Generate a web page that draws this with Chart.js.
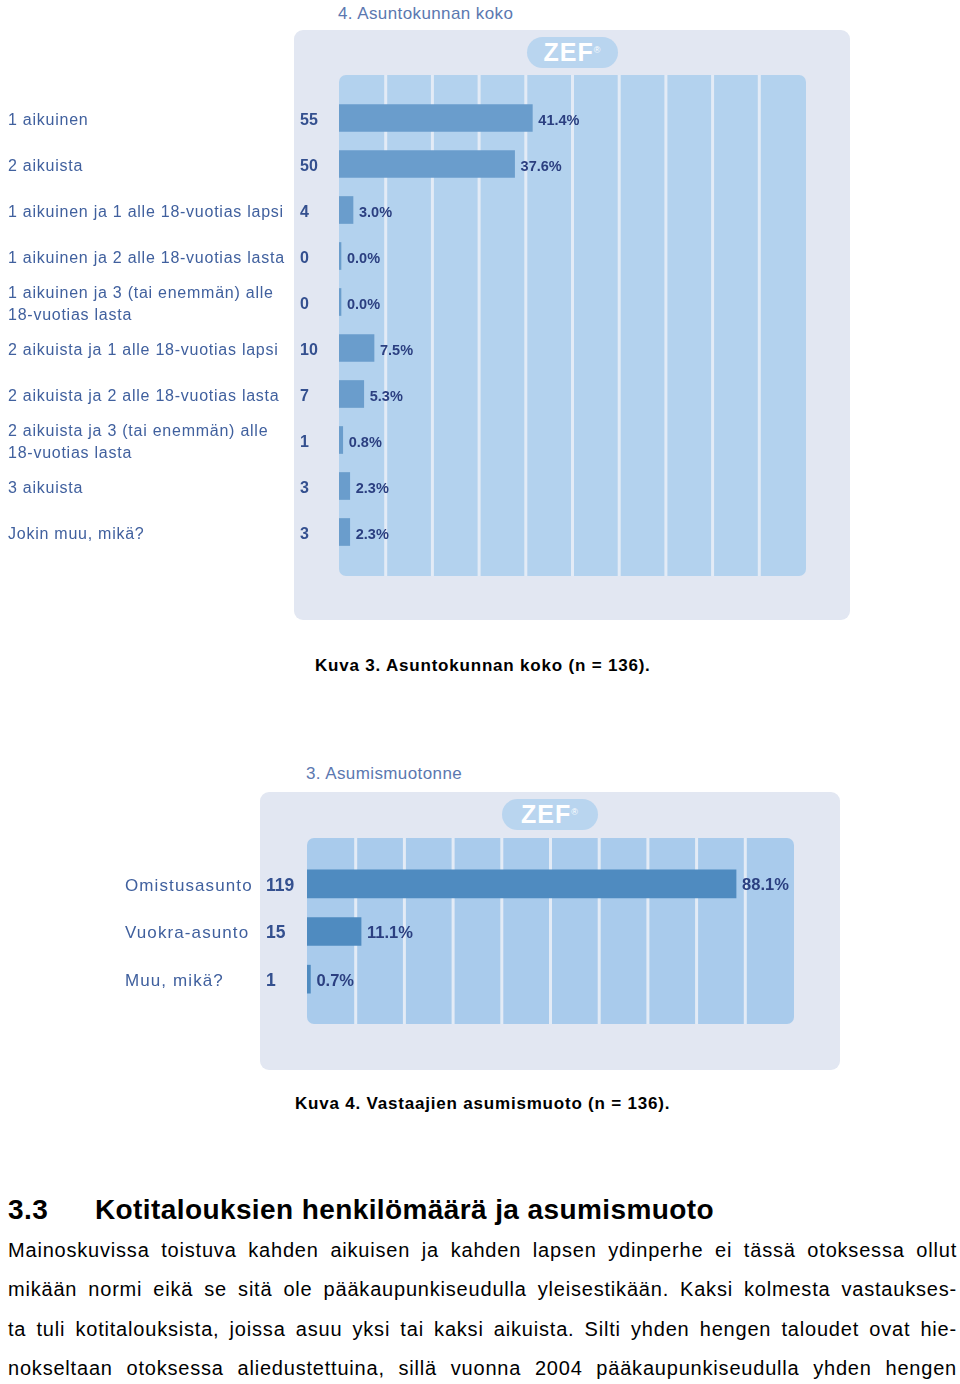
<!DOCTYPE html>
<html>
<head>
<meta charset="utf-8">
<script src="https://cdn.jsdelivr.net/npm/chart.js@4"></script>
<style>
  body { margin:0; background:#fff; width:960px; height:1384px; position:relative; overflow:hidden; font-family:"Liberation Sans", Arial, sans-serif; }
  .abs { position:absolute; }
  .panel { background:#e2e7f2; border-radius:9px; }
  .zef { background:#b9d5ef; border-radius:16px; color:#fff; font:bold 25px "Liberation Sans", Arial, sans-serif; text-align:center; letter-spacing:1px; }
  .zef sup { font-size:9px; font-weight:normal; vertical-align:top; position:relative; top:-2px; }
  .ctitle { color:#5b78b0; font-size:17px; letter-spacing:0.4px; }
  .caption { font-weight:bold; font-size:17px; letter-spacing:0.8px; color:#000; }
  .heading { font-weight:bold; font-size:28px; letter-spacing:0.4px; }
  .body-line { left:8px; width:949px; font-size:20px; letter-spacing:0.8px; text-align:justify; text-align-last:justify; color:#000; white-space:nowrap; }
</style>
</head>
<body>

<div class="abs ctitle" style="left:338px;top:4px;">4. Asuntokunnan koko</div>
<div class="abs panel" style="left:294px;top:30px;width:556px;height:590px;"></div>
<div class="abs zef" style="left:527px;top:37px;width:91px;height:31px;line-height:31px;">ZEF<sup>®</sup></div>
<canvas id="chart1" class="abs" style="left:0;top:0;"></canvas>
<div class="abs caption" style="left:315px;top:656px;">Kuva 3. Asuntokunnan koko (n = 136).</div>

<div class="abs ctitle" style="left:306px;top:764px;">3. Asumismuotonne</div>
<div class="abs panel" style="left:260px;top:792px;width:580px;height:278px;"></div>
<div class="abs zef" style="left:502px;top:799px;width:96px;height:31px;line-height:31px;">ZEF<sup>®</sup></div>
<canvas id="chart2" class="abs" style="left:0;top:760px;"></canvas>
<div class="abs caption" style="left:295px;top:1094px;">Kuva 4. Vastaajien asumismuoto (n = 136).</div>

<div class="abs heading" style="left:8px;top:1194px;">3.3</div>
<div class="abs heading" style="left:95px;top:1194px;">Kotitalouksien henkilömäärä ja asumismuoto</div>
<div class="abs body-line" style="top:1239px;">Mainoskuvissa toistuva kahden aikuisen ja kahden lapsen ydinperhe ei tässä otoksessa ollut</div>
<div class="abs body-line" style="top:1278px;">mikään normi eikä se sitä ole pääkaupunkiseudulla yleisestikään. Kaksi kolmesta vastaukses-</div>
<div class="abs body-line" style="top:1318px;">ta tuli kotitalouksista, joissa asuu yksi tai kaksi aikuista. Silti yhden hengen taloudet ovat hie-</div>
<div class="abs body-line" style="top:1357px;">nokseltaan otoksessa aliedustettuina, sillä vuonna 2004 pääkaupunkiseudulla yhden hengen</div>

<script>
// chart 1: household size
const householdLabels = [
  '1 aikuinen',
  '2 aikuista',
  '1 aikuinen ja 1 alle 18-vuotias lapsi',
  '1 aikuinen ja 2 alle 18-vuotias lasta',
  ['1 aikuinen ja 3 (tai enemmän) alle', '18-vuotias lasta'],
  '2 aikuista ja 1 alle 18-vuotias lapsi',
  '2 aikuista ja 2 alle 18-vuotias lasta',
  ['2 aikuista ja 3 (tai enemmän) alle', '18-vuotias lasta'],
  '3 aikuista',
  'Jokin muu, mikä?'
];
const householdCounts = [55, 50, 4, 0, 0, 10, 7, 1, 3, 3];
const householdPercents = [41.4, 37.6, 3.0, 0.0, 0.0, 7.5, 5.3, 0.8, 2.3, 2.3];

// chart 2: housing type
const housingLabels = ['Omistusasunto', 'Vuokra-asunto', 'Muu, mikä?'];
const housingCounts = [119, 15, 1];
const housingPercents = [88.1, 11.1, 0.7];

const zefDecor = {
  id: 'zefDecor',
  beforeDatasetsDraw(chart, args, opts) {
    const ctx = chart.ctx;
    const area = chart.chartArea;
    const x = chart.scales.x;
    const top = area.top - opts.extTop;
    const bottom = area.bottom + opts.extBottom;
    ctx.save();
    ctx.fillStyle = opts.plotColor;
    ctx.beginPath();
    ctx.roundRect(area.left, top, area.right - area.left, bottom - top, 7);
    ctx.fill();
    ctx.fillStyle = opts.sepColor;
    x.ticks.forEach(t => {
      if (t.value <= 0 || t.value >= 100) return;
      const px = x.getPixelForValue(t.value);
      ctx.fillRect(px - 1.5, top, 3, bottom - top);
    });
    ctx.restore();
  },
  afterDatasetsDraw(chart, args, opts) {
    const ctx = chart.ctx;
    const x = chart.scales.x;
    const y = chart.scales.y;
    const meta = chart.getDatasetMeta(0);
    ctx.save();
    ctx.textBaseline = 'middle';
    ctx.textAlign = 'left';
    chart.data.labels.forEach((lab, i) => {
      const cy = y.getPixelForValue(i) + opts.textShift;
      ctx.font = opts.labelFont;
      ctx.letterSpacing = opts.labelSpacing;
      ctx.fillStyle = '#40609e';
      const lines = Array.isArray(lab) ? lab : [lab];
      lines.forEach((ln, j) => {
        ctx.fillText(ln, opts.labelX, cy + (j - (lines.length - 1) / 2) * 22);
      });
      ctx.letterSpacing = '0px';
      ctx.font = opts.countFont;
      ctx.fillStyle = '#34508f';
      ctx.fillText(String(opts.counts[i]), opts.countX, cy);
      const bar = meta.data[i];
      const endX = Math.max(bar.x, x.getPixelForValue(0) + 2);
      ctx.font = opts.pctFont;
      ctx.fillStyle = '#2b3f80';
      ctx.fillText(chart.data.datasets[0].data[i].toFixed(1) + '%', endX + 6, cy);
    });
    ctx.restore();
  }
};

function makeChart(id, w, h, labels, values, counts, cfg) {
  const canvas = document.getElementById(id);
  canvas.width = w; canvas.height = h;
  canvas.style.width = w + 'px'; canvas.style.height = h + 'px';
  return new Chart(canvas, {
    type: 'bar',
    data: {
      labels: labels,
      datasets: [{
        data: values,
        backgroundColor: cfg.barColor,
        barThickness: cfg.barThickness,
        minBarLength: 2,
        borderWidth: 0
      }]
    },
    options: {
      indexAxis: 'y',
      responsive: false,
      animation: false,
      layout: { padding: cfg.padding },
      plugins: {
        legend: { display: false },
        tooltip: { enabled: false },
        zefDecor: {
          plotColor: cfg.plotColor,
          sepColor: '#e3ebf6',
          extTop: cfg.extTop,
          extBottom: cfg.extBottom,
          labelX: cfg.labelX,
          countX: cfg.countX,
          counts: counts,
          textShift: cfg.textShift,
          labelFont: cfg.labelFont,
          labelSpacing: cfg.labelSpacing,
          countFont: cfg.countFont,
          pctFont: cfg.pctFont
        }
      },
      scales: {
        x: { display: false, min: 0, max: 100, ticks: { stepSize: 10 } },
        y: { display: false }
      }
    },
    plugins: [zefDecor]
  });
}

makeChart('chart1', 860, 630, householdLabels, householdPercents, householdCounts, {
  barColor: '#6a9dcc',
  plotColor: '#b3d2ee',
  barThickness: 27,
  padding: { left: 339, right: 54, top: 95, bottom: 75 },
  extTop: 20, extBottom: 21,
  labelX: 8, countX: 300, textShift: 3,
  labelFont: '16px "Liberation Sans", Arial, sans-serif',
  labelSpacing: '0.75px',
  countFont: 'bold 16px "Liberation Sans", Arial, sans-serif',
  pctFont: 'bold 14.5px "Liberation Sans", Arial, sans-serif'
});

makeChart('chart2', 860, 320, housingLabels, housingPercents, housingCounts, {
  barColor: '#4f8bc0',
  plotColor: '#a9cbec',
  barThickness: 28,
  padding: { left: 307, right: 66, top: 100, bottom: 77 },
  extTop: 22, extBottom: 21,
  labelX: 125, countX: 266, textShift: 2,
  labelFont: '17px "Liberation Sans", Arial, sans-serif',
  labelSpacing: '1.1px',
  countFont: 'bold 17.5px "Liberation Sans", Arial, sans-serif',
  pctFont: 'bold 16.5px "Liberation Sans", Arial, sans-serif'
});
</script>
</body>
</html>
